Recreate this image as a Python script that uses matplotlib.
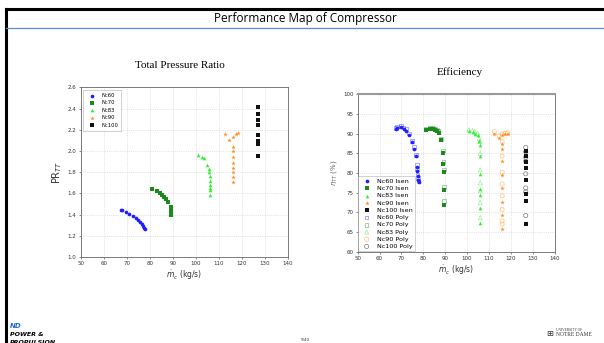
import matplotlib
matplotlib.use("Agg")
import matplotlib.pyplot as plt
from matplotlib.lines import Line2D

# ---- data: total pressure ratio map ----
pr_nc60_m = [67.5, 68.0, 69.5, 71.0, 72.5, 74.0, 75.0, 75.8, 76.5, 77.0, 77.5, 77.8]
pr_nc60 = [1.44, 1.44, 1.425, 1.41, 1.39, 1.37, 1.35, 1.33, 1.31, 1.29, 1.275, 1.265]
pr_nc70_m = [81.0, 83.0, 84.5, 85.5, 86.3, 87.0, 88.0, 89.0, 89.2, 89.3, 89.4, 89.4]
pr_nc70 = [1.64, 1.62, 1.60, 1.58, 1.565, 1.55, 1.515, 1.47, 1.45, 1.43, 1.41, 1.395]
pr_nc83_m = [100.8, 102.5, 103.5, 104.8, 105.5, 105.8, 106.0, 106.0, 106.0, 106.0, 106.0, 106.0]
pr_nc83 = [1.965, 1.945, 1.93, 1.865, 1.83, 1.80, 1.76, 1.72, 1.68, 1.655, 1.63, 1.58]
pr_nc90_m = [112.5, 114.5, 116.0, 117.5, 118.5, 116.0, 116.0, 116.0, 116.0, 116.0, 116.0, 116.0, 116.0]
pr_nc90 = [2.155, 2.105, 2.135, 2.155, 2.17, 2.04, 2.00, 1.945, 1.89, 1.84, 1.80, 1.755, 1.71]
pr_nc100_m = [126.8] * 8
pr_nc100 = [2.41, 2.35, 2.29, 2.24, 2.15, 2.09, 2.07, 1.95]

# ---- data: efficiency map (isentropic / polytropic) ----
ef_nc60_m = [67.5, 68.0, 69.8, 71.0, 72.3, 73.5, 74.8, 75.8, 76.5, 77.0, 77.2, 77.4, 77.6, 77.8]
ef_nc60_isen = [91.2, 91.5, 91.6, 91.3, 90.8, 89.6, 87.8, 86.2, 84.2, 81.5, 80.5, 79.2, 78.3, 77.6]
ef_nc60_poly = [91.5, 91.8, 91.9, 91.6, 91.1, 90.0, 88.2, 86.6, 84.6, 82.0, 81.0, 79.6, 78.7, 78.0]
ef_nc70_m = [81.0, 83.0, 84.5, 85.5, 86.3, 87.0, 88.0, 89.0, 89.2, 89.3, 89.4, 89.4]
ef_nc70_isen = [91.0, 91.2, 91.1, 90.9, 90.6, 90.2, 88.3, 85.1, 82.2, 80.2, 75.6, 71.8]
ef_nc70_poly = [91.2, 91.4, 91.4, 91.2, 91.0, 90.6, 88.7, 85.7, 82.8, 80.9, 76.5, 72.8]
ef_nc83_m = [100.8, 102.5, 103.5, 104.8, 105.5, 105.8, 106.0, 106.0, 106.0, 106.0, 106.0, 106.0]
ef_nc83_isen = [90.7, 90.4, 90.0, 89.6, 88.2, 87.2, 84.2, 79.8, 76.0, 74.3, 71.0, 67.2]
ef_nc83_poly = [91.0, 90.8, 90.5, 90.1, 88.8, 88.0, 85.0, 80.8, 77.5, 75.5, 72.5, 68.7]
ef_nc90_m = [112.5, 114.5, 116.0, 117.5, 118.5, 116.0, 116.0, 116.0, 116.0, 116.0, 116.0, 116.0, 116.0]
ef_nc90_isen = [90.0, 88.8, 89.7, 89.9, 90.0, 87.3, 86.0, 83.0, 79.5, 76.3, 72.7, 69.2, 65.8]
ef_nc90_poly = [90.5, 89.5, 89.9, 90.1, 90.2, 88.0, 84.3, 80.2, 77.2, 74.2, 70.7, 67.8, 67.0]
ef_nc100_m = [126.8] * 8
ef_nc100_isen = [85.5, 84.2, 82.8, 81.2, 78.3, 74.6, 73.0, 67.0]
ef_nc100_poly = [86.5, 85.4, 84.0, 83.0, 79.8, 76.2, 75.2, 69.2]

speed_labels = ["Nc60", "Nc70", "Nc83", "Nc90", "Nc100"]
colors = ["#1f1fff", "#1a8a1a", "#33ee33", "#ff8c1a", "#111111"]
isen_markers = ["o", "s", "^", "*", "s"]
poly_markers = ["s", "s", "^", "o", "o"]
isen_sizes = [7, 5, 7, 11, 5]

pr_m = [pr_nc60_m, pr_nc70_m, pr_nc83_m, pr_nc90_m, pr_nc100_m]
pr_v = [pr_nc60, pr_nc70, pr_nc83, pr_nc90, pr_nc100]
ef_m = [ef_nc60_m, ef_nc70_m, ef_nc83_m, ef_nc90_m, ef_nc100_m]
ef_isen = [ef_nc60_isen, ef_nc70_isen, ef_nc83_isen, ef_nc90_isen, ef_nc100_isen]
ef_poly = [ef_nc60_poly, ef_nc70_poly, ef_nc83_poly, ef_nc90_poly, ef_nc100_poly]

W, H = 604, 343
fig = plt.figure(figsize=(W / 100, H / 100), dpi=100)
fig.patch.set_facecolor("white")

# slide chrome
fig.add_artist(Line2D([6 / W, 1], [1 - 9 / H] * 2, color="black", lw=2.2))
fig.add_artist(Line2D([6 / W] * 2, [0, 1 - 9 / H], color="black", lw=2.2))
fig.add_artist(Line2D([6 / W, 1], [1 - 28 / H] * 2, color="#5b8fd0", lw=0.9))
fig.text(305 / W, 1 - 18.5 / H, "Performance Map of Compressor", ha="center", va="center",
         fontsize=8.5, family="Open Sans")
fig.text(305 / W, 1 - 340 / H, "9/40", ha="center", va="center", fontsize=3, color="#333333")
fig.text(10 / W, 1 - 326 / H, "ND", fontsize=5, fontweight="bold", color="#1a6fd0",
         fontstyle="italic", va="center")
fig.text(10 / W, 1 - 334 / H, "POWER &", fontsize=4.5, fontweight="bold", color="black",
         fontstyle="italic", va="center")
fig.text(10 / W, 1 - 342 / H, "PROPULSION", fontsize=4.5, fontweight="bold", color="black",
         fontstyle="italic", va="center")
fig.text(546 / W, 1 - 333 / H, "\u229e", fontsize=6, va="center", color="#333333")
fig.text(556 / W, 1 - 330 / H, "UNIVERSITY OF", fontsize=2.5, va="center",
         family="Liberation Serif", color="#333333")
fig.text(556 / W, 1 - 335 / H, "NOTRE DAME", fontsize=4, va="center",
         family="Liberation Serif", color="#333333")

GRID_KW = dict(color="#cccccc", linestyle=":", linewidth=0.5)


def style(ax):
    ax.grid(True, **GRID_KW)
    ax.set_axisbelow(True)
    for s in ax.spines.values():
        s.set_color("#666666")
        s.set_linewidth(0.6)
    ax.tick_params(labelsize=4, length=1.5, width=0.4, pad=1.5, colors="#333333")


# ---- left: total pressure ratio ----
ax1 = fig.add_axes([80.7 / W, 1 - 257 / H, (288 - 80.7) / W, (257 - 87.3) / H])
for m, v, lab, c, mk, sz in zip(pr_m, pr_v, speed_labels, colors, isen_markers, isen_sizes):
    ax1.scatter(m, v, s=sz, marker=mk, color=c, label=lab, linewidths=0)
ax1.set_xlim(50, 140)
ax1.set_ylim(1.0, 2.6)
ax1.set_xticks(range(50, 141, 10))
ax1.set_yticks([1.0, 1.2, 1.4, 1.6, 1.8, 2.0, 2.2, 2.4, 2.6])
ax1.yaxis.set_major_formatter(matplotlib.ticker.FormatStrFormatter("%.1f"))
style(ax1)
ax1.set_xlabel(r"$\dot{m}_c$ (kg/s)", fontsize=5.5, labelpad=1.5, color="#333333")
ax1.set_ylabel(r"PR$_{TT}$", fontsize=7, labelpad=3, color="#333333")
ax1.legend(loc="upper left", fontsize=3.8, markerscale=1, handletextpad=0.8, borderpad=0.6,
           labelspacing=0.45, frameon=True, edgecolor="#999999", fancybox=False,
           borderaxespad=0.5).get_frame().set_linewidth(0.4)
fig.text(180 / W, 1 - 66 / H, "Total Pressure Ratio", ha="center", va="center",
         fontsize=8, family="Liberation Serif")

# ---- right: efficiency ----
ax2 = fig.add_axes([357.7 / W, 1 - 251.7 / H, (554.6 - 357.7) / W, (251.7 - 94.3) / H])
for m, vi, lab, c, mk, sz in zip(ef_m, ef_isen, speed_labels, colors, isen_markers, isen_sizes):
    ax2.scatter(m, vi, s=sz, marker=mk, color=c, label=f"{lab} Isen", linewidths=0)
for m, vp, lab, c, mk in zip(ef_m, ef_poly, speed_labels, colors, poly_markers):
    ax2.scatter(m, vp, s=9 if mk != "s" else 7, marker=mk, facecolors="none", edgecolors=c,
                alpha=0.55, label=f"{lab} Poly", linewidths=0.5)
ax2.set_xlim(50, 140)
ax2.set_ylim(60, 100)
ax2.set_xticks(range(50, 141, 10))
ax2.set_yticks(range(60, 101, 5))
style(ax2)
ax2.spines["top"].set_linewidth(1.5)
ax2.spines["top"].set_color("#999999")
ax2.set_xlabel(r"$\dot{m}_c$ (kg/s)", fontsize=5.5, labelpad=1.5, color="#333333")
ax2.set_ylabel(r"$\eta_{TT}$ (%)", fontsize=5, labelpad=3, color="#666666")
ax2.legend(loc="lower left", fontsize=4.6, markerscale=1, handletextpad=0.6, borderpad=0.3,
           labelspacing=0.28, frameon=True, edgecolor="#999999", fancybox=False,
           borderaxespad=0.1).get_frame().set_linewidth(0.4)
fig.text(460 / W, 1 - 72 / H, "Efficiency", ha="center", va="center",
         fontsize=8, family="Liberation Serif")

fig.savefig("out.png", dpi=100)
